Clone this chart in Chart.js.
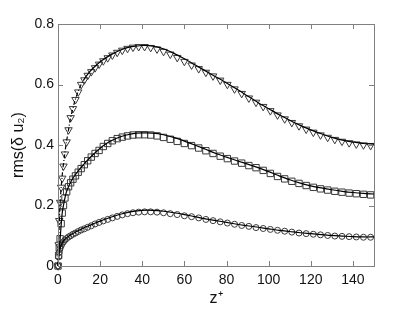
<!DOCTYPE html>
<html>
<head>
<meta charset="utf-8">
<script src="https://cdn.jsdelivr.net/npm/chart.js@4.4.1/dist/chart.umd.min.js"></script>
<style>
html,body{margin:0;padding:0;background:#fff;}
canvas{display:block;}
</style>
</head>
<body>
<canvas id="c" width="414" height="311"></canvas>
<script>
// ---- data ----
const xTicks = [0, 20, 40, 60, 80, 100, 120, 140];
const yTicks = [0, 0.2, 0.4, 0.6, 0.8];

// marker positions (z+)
const zMarkers = [0, 0.3, 0.6, 1, 1.5, 2, 2.6, 3.3, 4.1, 5, 6, 7.1, 8.3, 9.6, 11, 12.5, 14.1, 15.8, 17.6, 19.5,
  21.5, 23.6, 25.8, 28.1, 30.5, 33, 35.6, 38.3, 41.1, 44, 47, 50.1, 53.3, 56.6, 60, 63.4, 66.8, 70.2, 73.6, 77,
  80.4, 83.8, 87.2, 90.6, 94, 97.4, 100.8, 104.2, 107.6, 111, 114.4, 117.8, 121.2, 124.6, 128, 131.4, 134.8, 138.2, 141.6, 145, 148.4];

const triMarkers = [0, 0.07, 0.15, 0.21, 0.26, 0.29, 0.33, 0.37, 0.41, 0.45, 0.49, 0.52, 0.55, 0.575, 0.6, 0.615, 0.63, 0.642, 0.655, 0.667,
  0.678, 0.688, 0.697, 0.706, 0.713, 0.719, 0.723, 0.725, 0.725, 0.722, 0.717, 0.709, 0.7, 0.689, 0.676, 0.664, 0.652, 0.64, 0.628, 0.614,
  0.6, 0.585, 0.57, 0.555, 0.541, 0.527, 0.513, 0.499, 0.486, 0.474, 0.463, 0.452, 0.442, 0.433, 0.425, 0.418, 0.412, 0.407, 0.403, 0.4, 0.398];

const sqMarkers = [0, 0.035, 0.06, 0.09, 0.14, 0.175, 0.2, 0.225, 0.245, 0.262, 0.275, 0.287, 0.298, 0.31, 0.322, 0.335, 0.348, 0.36, 0.372, 0.382,
  0.395, 0.405, 0.414, 0.421, 0.426, 0.43, 0.433, 0.434, 0.434, 0.433, 0.43, 0.425, 0.419, 0.412, 0.405, 0.398, 0.39, 0.381, 0.372, 0.363,
  0.355, 0.347, 0.34, 0.332, 0.325, 0.316, 0.306, 0.296, 0.288, 0.28, 0.273, 0.266, 0.26, 0.255, 0.251, 0.247, 0.244, 0.241, 0.239, 0.237, 0.235];

const circMarkers = [0, 0.03, 0.045, 0.058, 0.067, 0.074, 0.08, 0.086, 0.091, 0.096, 0.1, 0.105, 0.109, 0.114, 0.119, 0.123, 0.128, 0.133, 0.139, 0.144,
  0.149, 0.154, 0.159, 0.164, 0.169, 0.173, 0.176, 0.178, 0.179, 0.179, 0.178, 0.176, 0.173, 0.17, 0.166, 0.163, 0.159, 0.154, 0.15, 0.146,
  0.142, 0.138, 0.134, 0.131, 0.127, 0.124, 0.121, 0.118, 0.115, 0.112, 0.109, 0.107, 0.105, 0.103, 0.101, 0.099, 0.098, 0.097, 0.096, 0.095, 0.095];

// continuous reference curves (solid lines)
const zLine = [0, 0.5, 1, 2, 3, 4, 5, 6, 8, 10, 12, 15, 18, 21, 25, 30, 35, 40, 45, 50, 55, 60, 65, 70, 75, 80,
  85, 90, 95, 100, 105, 110, 115, 120, 125, 130, 135, 140, 145, 150];
const topLine = [0, 0.12, 0.21, 0.3, 0.36, 0.41, 0.45, 0.49, 0.545, 0.585, 0.613, 0.642, 0.663, 0.68, 0.698, 0.715, 0.725, 0.729, 0.727, 0.718,
  0.703, 0.685, 0.665, 0.645, 0.625, 0.605, 0.584, 0.562, 0.54, 0.52, 0.5, 0.482, 0.465, 0.45, 0.437, 0.425, 0.416, 0.41, 0.405, 0.403];
const midLine = [0, 0.05, 0.09, 0.175, 0.215, 0.245, 0.262, 0.277, 0.3, 0.318, 0.334, 0.357, 0.377, 0.395, 0.413, 0.428, 0.437, 0.44, 0.439, 0.434,
  0.425, 0.413, 0.4, 0.386, 0.372, 0.36, 0.348, 0.337, 0.325, 0.312, 0.298, 0.285, 0.274, 0.265, 0.258, 0.252, 0.247, 0.243, 0.24, 0.238];
const lowLine = [0, 0.04, 0.058, 0.076, 0.086, 0.093, 0.098, 0.103, 0.111, 0.118, 0.125, 0.134, 0.143, 0.151, 0.161, 0.172, 0.18, 0.184, 0.184, 0.181,
  0.176, 0.17, 0.163, 0.156, 0.15, 0.144, 0.138, 0.133, 0.128, 0.123, 0.118, 0.114, 0.11, 0.107, 0.104, 0.101, 0.099, 0.097, 0.096, 0.096];

const pts = (xs, ys) => xs.map((x, i) => ({x: x, y: ys[i]}));

const FONT = '"Liberation Sans", Arial, sans-serif';
const AXIS_COLOR = '#808080';

const boxPlugin = {
  id: 'boxTicks',
  afterDatasetsDraw(chart) {
    const {ctx, chartArea: a, scales} = chart;
    ctx.save();
    ctx.strokeStyle = AXIS_COLOR;
    ctx.lineWidth = 1;
    ctx.strokeRect(Math.round(a.left) + 0.5, Math.round(a.top) + 0.5,
      Math.round(a.right - a.left), Math.round(a.bottom - a.top));
    const L = 5;
    ctx.beginPath();
    xTicks.forEach(v => {
      const px = Math.round(scales.x.getPixelForValue(v)) + 0.5;
      ctx.moveTo(px, a.bottom); ctx.lineTo(px, a.bottom - L);
      ctx.moveTo(px, a.top); ctx.lineTo(px, a.top + L);
    });
    yTicks.forEach(v => {
      const py = Math.round(scales.y.getPixelForValue(v)) + 0.5;
      ctx.moveTo(a.left, py); ctx.lineTo(a.left + L, py);
      ctx.moveTo(a.right, py); ctx.lineTo(a.right - L, py);
    });
    ctx.stroke();
    ctx.restore();
  }
};

const lineDs = (data, dashNear) => ({
  type: 'line',
  data: data,
  borderColor: '#000',
  borderWidth: 1.2,
  pointRadius: 0,
  fill: false,
  tension: 0.3,
  clip: false,
  segment: dashNear ? { borderDash: c => (c.p1.parsed.x <= 12 ? [4, 2, 1, 2] : undefined) } : undefined,
  order: 1
});

const markerDs = (data, style, r, rot) => ({
  type: 'scatter',
  data: data,
  showLine: false,
  pointStyle: style,
  pointRadius: r,
  pointRotation: rot,
  pointBorderColor: '#3a3a3a',
  pointBackgroundColor: 'rgba(255,255,255,0)',
  pointBorderWidth: 1,
  clip: false,
  order: 2
});

new Chart(document.getElementById('c'), {
  data: {
    datasets: [
      lineDs(pts(zLine, topLine), true),
      lineDs(pts(zLine, midLine), false),
      lineDs(pts(zLine, lowLine), false),
      markerDs(pts(zMarkers, triMarkers), 'triangle', 4.3, 180),
      markerDs(pts(zMarkers, sqMarkers), 'rect', 4.5, 0),
      markerDs(pts(zMarkers, circMarkers), 'circle', 3, 0)
    ]
  },
  options: {
    responsive: false,
    animation: false,
    devicePixelRatio: 1,
    layout: { padding: { top: 24, right: 40, left: 0, bottom: 0 } },
    plugins: { legend: { display: false }, tooltip: { enabled: false } },
    scales: {
      x: {
        type: 'linear',
        min: 0, max: 150,
        grid: { display: false, drawTicks: false },
        border: { display: false },
        afterBuildTicks: s => { s.ticks = xTicks.map(v => ({value: v})); },
        afterFit: s => { s.height = 45; },
        ticks: { color: '#111', font: { family: FONT, size: 14 }, padding: 6, maxRotation: 0,
          callback: v => String(v) },
        title: { display: true, text: 'z⁺', color: '#111', font: { family: FONT, size: 16 }, padding: { top: 0, bottom: 3 } }
      },
      y: {
        type: 'linear',
        min: 0, max: 0.8,
        grid: { display: false, drawTicks: false },
        border: { display: false },
        afterBuildTicks: s => { s.ticks = yTicks.map(v => ({value: v})); },
        afterFit: s => { s.width = 58; },
        ticks: { color: '#111', font: { family: FONT, size: 14 }, padding: 4,
          callback: v => (v === 0 ? '0' : v.toFixed(1)) },
        title: { display: true, text: 'rms(δ u₂)', color: '#111', font: { family: FONT, size: 16 }, padding: { top: 9, bottom: 0 } }
      }
    }
  },
  plugins: [boxPlugin]
});
</script>
</body>
</html>
